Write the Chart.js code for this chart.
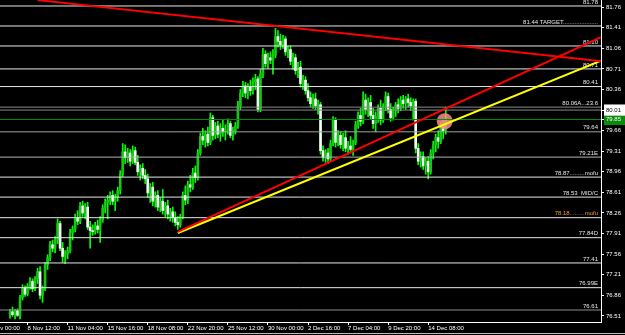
<!DOCTYPE html>
<html lang="en">
<head>
<meta charset="UTF-8">
<title>NZDJPY H4</title>
<style>
  html, body { margin: 0; padding: 0; background: #000; overflow: hidden; }
  canvas { display: block; }
</style>
</head>
<body>
<canvas id="chart" width="625" height="335"></canvas>
<script src="https://cdn.jsdelivr.net/npm/chart.js"></script>
<script>
// H4 candles, bar 0 is the first bar on screen
const opens = [
  76.55, 76.58, 76.53, 76.60, 76.52, 76.82, 76.98, 76.88, 77.02, 77.10,
  76.97, 77.14, 77.26, 76.86, 76.98, 77.38, 77.50, 77.72, 77.66, 77.80,
  78.08, 77.66, 77.52, 77.56, 77.62, 77.92, 77.98, 78.18, 78.12, 78.38,
  78.26, 78.36, 78.02, 77.96, 77.94, 78.04, 77.98, 78.14, 78.34, 78.44,
  78.48, 78.56, 78.46, 78.52, 78.64, 78.92, 79.30, 79.20, 79.28, 79.14,
  79.32, 79.12, 78.96, 79.02, 78.90, 78.84, 78.60, 78.70, 78.46, 78.56,
  78.36, 78.46, 78.30, 78.38, 78.24, 78.28, 78.18, 78.10, 78.06, 78.20,
  78.56, 78.48, 78.74, 78.70, 78.94, 78.86, 79.28, 79.56, 79.50, 79.60,
  79.46, 79.88, 79.58, 79.74, 79.60, 79.70, 79.64, 79.68, 79.78, 79.58,
  79.66, 79.74, 80.08, 80.30, 80.42, 80.30, 80.40, 80.34, 80.50, 80.54,
  80.02, 80.62, 80.96, 80.80, 80.90, 80.86, 80.94, 81.26, 81.18, 81.12,
  81.22, 81.00, 81.04, 80.84, 80.90, 80.68, 80.74, 80.46, 80.52, 80.34,
  80.22, 80.12, 80.20, 80.08, 80.10, 79.32, 79.20, 79.28, 79.18, 79.44,
  79.84, 79.46, 79.58, 79.42, 79.54, 79.36, 79.40, 79.34, 79.46, 79.76,
  79.92, 79.82, 80.18, 80.02, 80.14, 79.92, 79.78, 79.90, 80.04, 79.84,
  80.06, 80.24, 80.02, 79.88, 80.00, 80.10, 80.04, 80.18, 80.12, 80.20,
  80.14, 80.08, 80.16, 79.36, 79.14, 79.22, 79.06, 79.14, 78.96, 79.28,
  79.42, 79.54, 79.48, 79.72, 79.66
];
const highs = [
  76.62, 76.66, 76.62, 76.63, 76.86, 77.04, 77.02, 77.06, 77.16, 77.14,
  77.18, 77.32, 77.35, 77.02, 77.42, 77.55, 77.78, 77.80, 77.86, 78.16,
  78.12, 77.76, 77.62, 77.68, 77.98, 78.04, 78.24, 78.30, 78.44, 78.46,
  78.42, 78.44, 78.12, 78.06, 78.10, 78.14, 78.20, 78.40, 78.50, 78.56,
  78.62, 78.64, 78.58, 78.70, 78.98, 79.44, 79.42, 79.36, 79.34, 79.40,
  79.38, 79.24, 79.08, 79.10, 79.00, 78.92, 78.76, 78.78, 78.62, 78.64,
  78.52, 78.66, 78.44, 78.48, 78.34, 78.36, 78.28, 78.20, 78.24, 78.62,
  78.72, 78.80, 78.90, 79.02, 79.06, 79.34, 79.62, 79.70, 79.66, 79.72,
  79.96, 79.92, 79.80, 79.82, 79.78, 79.84, 79.76, 79.86, 79.82, 79.72,
  79.80, 80.16, 80.36, 80.50, 80.48, 80.46, 80.52, 80.56, 80.62, 80.58,
  80.70, 81.06, 81.02, 80.98, 81.00, 81.04, 81.40, 81.36, 81.30, 81.28,
  81.26, 81.10, 81.10, 80.98, 80.96, 80.82, 80.84, 80.60, 80.58, 80.46,
  80.32, 80.28, 80.30, 80.18, 80.14, 79.40, 79.34, 79.36, 79.50, 79.90,
  79.88, 79.66, 79.64, 79.62, 79.66, 79.48, 79.56, 79.50, 79.82, 79.98,
  80.04, 80.32, 80.28, 80.22, 80.26, 80.04, 79.98, 80.10, 80.18, 80.12,
  80.32, 80.30, 80.12, 80.06, 80.14, 80.20, 80.24, 80.26, 80.24, 80.28,
  80.22, 80.20, 80.20, 79.44, 79.30, 79.30, 79.20, 79.22, 79.34, 79.48,
  79.60, 79.66, 79.80, 79.84, 80.06
];
const lows = [
  76.47, 76.50, 76.46, 76.50, 76.46, 76.78, 76.84, 76.85, 76.96, 76.92,
  76.94, 77.06, 76.80, 76.74, 76.94, 77.30, 77.45, 77.60, 77.58, 77.74,
  77.62, 77.42, 77.40, 77.48, 77.58, 77.80, 77.94, 78.06, 78.08, 78.20,
  78.16, 77.98, 77.66, 77.88, 77.90, 77.92, 77.76, 78.10, 78.26, 78.16,
  78.40, 78.40, 78.30, 78.46, 78.58, 78.88, 79.10, 79.12, 79.06, 79.10,
  79.08, 78.90, 78.82, 78.84, 78.76, 78.52, 78.44, 78.38, 78.36, 78.30,
  78.28, 78.24, 78.20, 78.16, 78.12, 78.10, 78.04, 77.98, 78.02, 78.16,
  78.40, 78.42, 78.62, 78.66, 78.78, 78.82, 79.24, 79.42, 79.38, 79.40,
  79.42, 79.50, 79.52, 79.54, 79.48, 79.56, 79.50, 79.60, 79.54, 79.50,
  79.60, 79.70, 80.02, 80.24, 80.22, 80.20, 80.26, 80.28, 80.36, 79.98,
  79.98, 80.56, 80.74, 80.72, 80.80, 80.62, 80.90, 81.08, 81.04, 81.06,
  80.94, 80.90, 80.78, 80.70, 80.62, 80.56, 80.40, 80.36, 80.28, 80.16,
  80.06, 80.04, 80.02, 79.94, 79.26, 79.14, 79.12, 79.10, 79.14, 79.40,
  79.38, 79.40, 79.36, 79.32, 79.30, 79.26, 79.28, 79.24, 79.42, 79.70,
  79.74, 79.78, 79.94, 79.90, 79.86, 79.70, 79.64, 79.80, 79.76, 79.80,
  80.00, 79.96, 79.82, 79.84, 79.90, 79.96, 80.00, 80.04, 80.02, 80.06,
  80.00, 79.84, 79.28, 79.08, 79.04, 79.00, 78.92, 78.84, 78.92, 79.18,
  79.30, 79.36, 79.44, 79.52, 79.60
];
const closes = [
  76.58, 76.53, 76.60, 76.52, 76.82, 76.98, 76.88, 77.02, 77.10, 76.97,
  77.14, 77.26, 76.86, 76.98, 77.38, 77.50, 77.72, 77.66, 77.80, 78.08,
  77.66, 77.52, 77.56, 77.62, 77.92, 77.98, 78.18, 78.12, 78.38, 78.26,
  78.36, 78.02, 77.96, 77.94, 78.04, 77.98, 78.14, 78.34, 78.44, 78.48,
  78.56, 78.46, 78.52, 78.64, 78.92, 79.30, 79.20, 79.28, 79.14, 79.32,
  79.12, 78.96, 79.02, 78.90, 78.84, 78.60, 78.70, 78.46, 78.56, 78.36,
  78.46, 78.30, 78.38, 78.24, 78.28, 78.18, 78.10, 78.06, 78.20, 78.56,
  78.48, 78.74, 78.70, 78.94, 78.86, 79.28, 79.56, 79.50, 79.60, 79.46,
  79.88, 79.58, 79.74, 79.60, 79.70, 79.64, 79.68, 79.78, 79.58, 79.66,
  79.74, 80.08, 80.30, 80.42, 80.30, 80.40, 80.34, 80.50, 80.54, 80.02,
  80.62, 80.96, 80.80, 80.90, 80.86, 80.94, 81.26, 81.18, 81.12, 81.22,
  81.00, 81.04, 80.84, 80.90, 80.68, 80.74, 80.46, 80.52, 80.34, 80.22,
  80.12, 80.20, 80.08, 80.10, 79.32, 79.20, 79.28, 79.18, 79.44, 79.84,
  79.46, 79.58, 79.42, 79.54, 79.36, 79.40, 79.34, 79.46, 79.76, 79.92,
  79.82, 80.18, 80.02, 80.14, 79.92, 79.78, 79.90, 80.04, 79.84, 80.06,
  80.24, 80.02, 79.88, 80.00, 80.10, 80.04, 80.18, 80.12, 80.20, 80.14,
  80.08, 80.16, 79.36, 79.14, 79.22, 79.06, 79.14, 78.96, 79.28, 79.42,
  79.54, 79.48, 79.72, 79.66, 79.85
];

// time axis: one label every 16 bars
const timeTicks = [-9, 7, 23, 39, 55, 71, 87, 103, 119, 135, 151, 167];
const timeLabels = ['4 Nov 00:00', '8 Nov 12:00', '11 Nov 04:00', '15 Nov 16:00', '18 Nov 08:00',
  '22 Nov 20:00', '25 Nov 12:00', '30 Nov 00:00', '2 Dec 16:00', '7 Dec 04:00', '9 Dec 20:00', '14 Dec 08:00'];

// price axis
const priceTicks = [81.76, 81.41, 81.06, 80.71, 80.36, 80.01, 79.66, 79.31,
  78.96, 78.61, 78.26, 77.91, 77.56, 77.21, 76.86, 76.51];
const askPrice = 80.01;
const bidPrice = 79.85;

// horizontal levels drawn on the chart
const levelPrices = [81.78, 81.44, 81.10, 80.71, 80.41, 80.06, 80.01, 79.85, 79.64,
  79.21, 78.87, 78.53, 78.18, 77.84, 77.41, 76.99, 76.61];
const levelLabels = ['81.78', '81.44 TARGET.....................', '81.10', '80.71', '80.41',
  '80.06A...23.6', '', '', '79.64', '79.21E', '78.87.........mofu', '78.53  MID/C',
  '78.18.........mofu', '77.84D', '77.41', '76.99E', '76.61'];
const levelColors = ['#e8e8e8', '#e8e8e8', '#e8e8e8', '#e8e8e8', '#e8e8e8', '#8a8a8a', '#8a8a8a',
  '#0a8a0a', '#a0a0a0', '#b4b4b4', '#e8e8e8', '#e8e8e8', '#e8e8e8', '#e8e8e8', '#e8e8e8', '#e8e8e8', '#8c8c8c'];
const levelTextColors = ['#e8e8e8', '#e8e8e8', '#e8e8e8', '#e8e8e8', '#e8e8e8', '#e8e8e8', '#e8e8e8',
  '#e8e8e8', '#e8e8e8', '#e8e8e8', '#e8e8e8', '#e8e8e8', '#f0a030', '#e8e8e8', '#e8e8e8', '#e8e8e8', '#e8e8e8'];

// trend lines, [bar, price] end points
const resistanceLine = [[11, 81.88], [236, 80.84]];
const supportRed = [[67, 77.94], [236, 81.25]];
const supportYellow = [[67, 77.92], [236, 80.85]];
const markerPoint = [173.6, 79.82];

const xMin = -4, xMax = 236;
const yMin = 76.406, yMax = 81.882;

const font6 = { family: 'Liberation Sans', size: 6 };

const candleWicks = highs.map((h, i) => ({ x: i, y: [lows[i], h] }));
const candleBodies = opens.map((o, i) => ({ x: i, y: [o, closes[i]] }));

const levelDatasets = levelPrices.map((p, k) => ({
  type: 'line',
  data: [{ x: xMin, y: p }, { x: xMax, y: p }],
  borderColor: levelColors[k],
  borderWidth: 1,
  pointRadius: 0,
  order: 2
}));

function trendDataset(pts, color) {
  return {
    type: 'line',
    data: pts.map(p => ({ x: p[0], y: p[1] })),
    borderColor: color,
    borderWidth: 2,
    pointRadius: 0,
    clip: 0,
    order: 1
  };
}

const levelLabelPlugin = {
  id: 'levelLabels',
  beforeDatasetsDraw(chart) {
    const { ctx, chartArea, scales } = chart;
    ctx.save();
    ctx.font = '6px "Liberation Sans", Arial, sans-serif';
    ctx.textAlign = 'right';
    ctx.textBaseline = 'bottom';
    levelPrices.forEach((p, k) => {
      if (!levelLabels[k]) return;
      ctx.fillStyle = levelTextColors[k];
      ctx.fillText(levelLabels[k], chartArea.right - 3, scales.y.getPixelForValue(p) - 1);
    });
    ctx.restore();
  },
  afterDraw(chart) {
    // window frame under the time axis
    const { ctx, width, height } = chart;
    ctx.save();
    ctx.fillStyle = '#b8b8b8';
    ctx.fillRect(0, height - 2, width, 1);
    ctx.restore();
  }
};

new Chart(document.getElementById('chart'), {
  type: 'bar',
  data: {
    datasets: [
      {
        data: candleWicks,
        backgroundColor: '#00ff00',
        barThickness: 1,
        grouped: false,
        order: 5
      },
      {
        data: candleBodies,
        backgroundColor: ctx => {
          const i = ctx.dataIndex;
          return closes[i] >= opens[i] ? '#12c812' : '#f2fff2';
        },
        barThickness: 2,
        minBarLength: 1,
        grouped: false,
        order: 4
      },
      {
        type: 'scatter',
        data: [{ x: markerPoint[0], y: markerPoint[1] }],
        backgroundColor: 'rgba(255, 140, 140, 0.85)',
        borderWidth: 0,
        pointRadius: 8,
        order: 3
      },
      ...levelDatasets,
      trendDataset(resistanceLine, '#ff0000'),
      trendDataset(supportRed, '#ff0000'),
      trendDataset(supportYellow, '#ffff00')
    ]
  },
  options: {
    responsive: false,
    animation: false,
    layout: { padding: 0, autoPadding: false },
    plugins: { legend: { display: false }, tooltip: { enabled: false } },
    scales: {
      x: {
        type: 'linear',
        position: 'bottom',
        offset: false,
        min: xMin,
        max: xMax,
        afterBuildTicks: s => { s.ticks = timeTicks.map(v => ({ value: v })); },
        afterFit: s => { s.height = 13; s.paddingLeft = 0; s.paddingRight = 0; },
        ticks: {
          callback: (v, k) => timeLabels[k],
          color: '#ffffff',
          font: font6,
          padding: 0,
          align: 'start',
          maxRotation: 0,
          minRotation: 0,
          autoSkip: false
        },
        grid: { offset: false, drawOnChartArea: false, drawTicks: true, tickLength: 3, color: '#ffffff' },
        border: { display: true, color: '#ffffff', width: 1 }
      },
      y: {
        type: 'linear',
        position: 'right',
        min: yMin,
        max: yMax,
        afterBuildTicks: s => {
          s.ticks = priceTicks.concat([bidPrice]).sort((a, b) => a - b).map(v => ({ value: v }));
        },
        afterFit: s => { s.width = 24; s.paddingTop = 0; s.paddingBottom = 0; },
        ticks: {
          callback: v => v.toFixed(2),
          color: ctx => (ctx.tick && ctx.tick.value === askPrice) ? '#000000' : '#ffffff',
          font: font6,
          padding: 2,
          autoSkip: false,
          showLabelBackdrop: ctx => !!ctx.tick && (ctx.tick.value === askPrice || ctx.tick.value === bidPrice),
          backdropColor: ctx => (ctx.tick && ctx.tick.value === bidPrice) ? '#0a8a0a' : '#ffffff',
          backdropPadding: { top: 2, bottom: 2, left: 2, right: 6 }
        },
        grid: { drawOnChartArea: false, drawTicks: true, tickLength: 3, color: '#ffffff' },
        border: { display: true, color: '#ffffff', width: 1 }
      }
    }
  },
  plugins: [levelLabelPlugin]
});
</script>
</body>
</html>
